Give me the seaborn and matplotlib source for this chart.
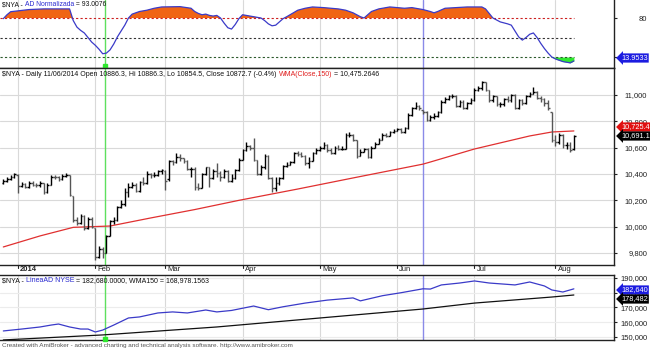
import numpy as np
import matplotlib
matplotlib.use('Agg')
import matplotlib.pyplot as plt
import matplotlib.transforms as mtransforms
import seaborn as sns

# daily bars, 26 Dec 2013 .. 8 Aug 2014 (bar index 0..155)
month_labels = ['2014', 'Feb', 'Mar', 'Apr', 'May', 'Jun', 'Jul', 'Aug']
month_bars = [4, 25, 44, 65, 86, 107, 128, 150]

nya_open = [10330, 10350, 10365, 10380, 10395, 10310, 10325, 10300, 10335, 10320,
            10315, 10330, 10260, 10320, 10380, 10375, 10360, 10385, 10390, 10230,
            10050, 10030, 10080, 9990, 10060, 9990, 9770, 9830, 9800, 9930,
            10040, 10050, 10150, 10170, 10260, 10300, 10320, 10270, 10340, 10330,
            10400, 10390, 10395, 10420, 10420, 10360, 10500, 10490, 10530, 10520,
            10500, 10440, 10440, 10300, 10290, 10400, 10450, 10370, 10420, 10410,
            10380, 10420, 10350, 10370, 10430, 10510, 10580, 10610, 10600, 10510,
            10400, 10450, 10540, 10370, 10290, 10330, 10370, 10460, 10470, 10490,
            10560, 10550, 10540, 10480, 10500, 10560, 10580, 10600, 10620, 10580,
            10560, 10600, 10590, 10590, 10700, 10700, 10660, 10540, 10570, 10590,
            10530, 10600, 10630, 10660, 10700, 10690, 10720, 10730, 10740, 10720,
            10750, 10850, 10900, 10920, 10886, 10873, 10810, 10830, 10840, 10870,
            10950, 10970, 10990, 10990, 10920, 10950, 10900, 10940, 10960, 11040,
            11050, 11100, 11040, 10960, 10990, 10930, 10930, 10970, 10960, 11000,
            10900, 10960, 10940, 10990, 11010, 11020, 10980, 10970, 10940, 10870,
            10660, 10640, 10700, 10620, 10620, 10590]
nya_high = [10365, 10380, 10395, 10410, 10400, 10340, 10335, 10350, 10345, 10335,
            10345, 10335, 10330, 10395, 10395, 10385, 10400, 10410, 10395, 10235,
            10070, 10095, 10085, 10075, 10070, 9990, 9850, 9845, 9940, 10050,
            10070, 10160, 10200, 10290, 10330, 10340, 10330, 10350, 10380, 10420,
            10410, 10415, 10430, 10440, 10430, 10505, 10510, 10560, 10550, 10520,
            10505, 10455, 10450, 10330, 10410, 10455, 10450, 10440, 10480, 10420,
            10440, 10430, 10400, 10440, 10520, 10590, 10640, 10620, 10673, 10505,
            10470, 10550, 10545, 10380, 10380, 10380, 10470, 10490, 10500, 10570,
            10575, 10565, 10545, 10530, 10570, 10600, 10610, 10640, 10625, 10600,
            10610, 10620, 10610, 10710, 10720, 10705, 10660, 10590, 10600, 10595,
            10610, 10640, 10670, 10710, 10715, 10730, 10745, 10750, 10750, 10760,
            10860, 10910, 10947, 10925, 10886, 10880, 10845, 10860, 10880, 10960,
            10985, 11000, 11005, 11000, 10960, 10960, 10950, 10975, 11050, 11070,
            11106, 11100, 11040, 11000, 10990, 10950, 10980, 10990, 11010, 11005,
            10970, 10970, 11000, 11020, 11060, 11030, 10990, 10980, 10960, 10870,
            10700, 10710, 10705, 10640, 10640, 10700]
nya_low = [10325, 10340, 10355, 10370, 10255, 10300, 10290, 10295, 10310, 10300,
           10300, 10250, 10255, 10315, 10360, 10350, 10355, 10375, 10230, 10035,
           10010, 10020, 9975, 9985, 9990, 9747, 9765, 9760, 9800, 9930,
           10020, 10040, 10140, 10160, 10225, 10290, 10260, 10265, 10320, 10325,
           10370, 10380, 10385, 10400, 10280, 10350, 10470, 10480, 10500, 10480,
           10430, 10380, 10280, 10280, 10290, 10395, 10300, 10360, 10380, 10350,
           10370, 10340, 10340, 10365, 10425, 10505, 10575, 10585, 10500, 10390,
           10395, 10440, 10365, 10263, 10270, 10320, 10365, 10455, 10465, 10485,
           10540, 10530, 10470, 10445, 10495, 10555, 10575, 10590, 10570, 10550,
           10550, 10580, 10580, 10590, 10680, 10650, 10520, 10535, 10565, 10520,
           10525, 10595, 10625, 10655, 10680, 10685, 10715, 10725, 10710, 10715,
           10745, 10840, 10890, 10885, 10854, 10800, 10800, 10820, 10830, 10860,
           10940, 10960, 10975, 10910, 10910, 10890, 10895, 10930, 10955, 11030,
           11040, 11030, 10950, 10950, 10915, 10910, 10920, 10950, 10950, 10895,
           10895, 10925, 10935, 10985, 11005, 10970, 10950, 10920, 10885, 10640,
           10610, 10630, 10600, 10590, 10570, 10580]
nya_close = [10350, 10365, 10380, 10400, 10310, 10325, 10300, 10335, 10320, 10315,
             10330, 10260, 10320, 10380, 10375, 10360, 10385, 10395, 10240, 10050,
             10030, 10080, 9990, 10060, 10000, 9770, 9830, 9800, 9930, 10040,
             10050, 10150, 10170, 10260, 10300, 10320, 10270, 10340, 10330, 10400,
             10390, 10395, 10420, 10430, 10350, 10500, 10490, 10530, 10520, 10500,
             10440, 10440, 10300, 10290, 10400, 10450, 10370, 10420, 10410, 10380,
             10420, 10350, 10370, 10430, 10510, 10580, 10610, 10600, 10510, 10400,
             10450, 10540, 10370, 10290, 10330, 10370, 10460, 10470, 10490, 10560,
             10550, 10540, 10480, 10500, 10560, 10580, 10600, 10620, 10580, 10560,
             10600, 10590, 10590, 10700, 10700, 10660, 10540, 10570, 10590, 10530,
             10600, 10630, 10660, 10700, 10690, 10720, 10730, 10740, 10720, 10750,
             10850, 10900, 10920, 10900, 10873, 10810, 10830, 10840, 10870, 10950,
             10970, 10990, 10990, 10920, 10950, 10900, 10940, 10960, 11040, 11050,
             11100, 11040, 10960, 10990, 10930, 10930, 10970, 10960, 11000, 10900,
             10960, 10940, 10990, 11010, 11020, 10980, 10970, 10940, 10900, 10660,
             10640, 10700, 10620, 10620, 10580, 10691]

# WMA(Close,150)
wma_bar = [0, 10, 19, 29, 40, 52, 64, 80, 95, 114, 116, 128, 143, 149, 155]
wma_val = [9846, 9930, 9995, 10005, 10066, 10130, 10200, 10286, 10370, 10475,
           10491, 10590, 10689, 10719, 10727]

# AD Normalizada (top pane)
adn_bar = [0, 1, 2, 4, 7, 11, 15, 18, 19, 20, 21, 22, 23, 24, 25, 26, 27, 28, 29, 30,
           31, 32, 33, 34, 35, 37, 39, 41, 43, 48, 51, 52, 53, 54, 55, 56, 57, 58, 59,
           60, 61, 62, 63, 64, 65, 67, 70, 71, 72, 73, 74, 75, 76, 77, 80, 82, 84, 87,
           89, 91, 93, 95, 96, 97, 98, 99, 100, 102, 105, 107, 109, 111, 114, 116, 117,
           118, 120, 123, 126, 130, 131, 132, 133, 134, 135, 137, 138, 139, 140, 141,
           142, 143, 144, 145, 146, 147, 148, 149, 150, 152, 154, 155]
adn_val = [79, 85, 89.7, 91, 93, 94, 94, 94, 76, 66, 61, 57, 50, 43, 38, 32, 25, 26, 31, 40,
           51, 60, 69, 80, 86, 90, 92, 95, 97, 97.5, 95, 90, 87, 85, 86, 84, 83, 84, 80,
           72, 65, 63, 70, 79, 85, 83, 80, 76, 71, 68, 69, 74, 79, 82, 92, 95, 97, 96,
           95, 94, 92, 88, 85, 82, 80, 85, 90, 94, 97, 96, 95, 96, 93, 90, 88,
           90, 95, 96, 97, 97, 94, 87, 80, 77, 74, 71, 69, 60, 51, 46,
           50, 55, 57, 50, 41, 33, 26, 20, 17, 13, 11, 13.95]

# LineaAD NYSE and its WMA150 (bottom pane)
ad_bar = [0, 5, 10, 13, 15, 18, 21, 23, 25, 27, 30, 34, 37, 42, 46, 50, 55, 58,
          62, 68, 72, 76, 82, 88, 95, 97, 103, 108, 114, 116, 119, 124, 128, 132,
          139, 143, 147, 149, 152, 155]
ad_val = [154100, 155400, 156800, 158100, 158800, 156800, 155400, 155400, 153400,
          154700, 158100, 162900, 163600, 166300, 167000, 166300, 168300, 167000,
          168000, 171000, 168500, 170500, 173000, 175000, 176500, 174500, 178000,
          180000, 182680, 182500, 185300, 186600, 188000, 186600, 185300, 187300,
          184600, 181900, 180500, 182640]
adw_bar = [0, 27, 58, 114, 128, 149, 155]
adw_val = [148000, 151400, 156800, 168978, 173000, 177100, 178482]

sel_bar = 114      # 11/06/2014, blue cursor
mark_bar = 27.6    # green marker line

W, H = 650, 351
sns.set_style('white')
plt.rcParams['font.family'] = ['Liberation Sans', 'DejaVu Sans']
fig = plt.figure(figsize=(W / 100, H / 100), dpi=100)

def px_axes(y0, y1, x1=614):
    return fig.add_axes([0, 1 - y1 / H, x1 / W, (y1 - y0) / H])

ax_top = px_axes(0, 68)
ax_px = px_axes(68, 265)
ax_ad = px_axes(275, 340)

xlim = (-0.9, 165.9)
grid_c = '#d9d9d9'
for ax in (ax_top, ax_px, ax_ad):
    ax.set_xlim(*xlim)
    ax.set_xticks([])
    for b in month_bars:
        ax.axvline(b, color=grid_c, lw=0.8, zorder=0)
    ax.axvline(mark_bar, color='#5ee05e', lw=1.0, zorder=1)
    ax.axvline(sel_bar, color='#8a8ae8', lw=1.0, zorder=1)
    ax.yaxis.tick_right()
    # right-aligned labels ending near the picture edge
    ax.tick_params(axis='y', labelsize=5.5, length=2, pad=22, colors='#222222')
    ax.spines['left'].set_visible(False)
    for s in ('right', 'top', 'bottom'):
        ax.spines[s].set_color('#222222')
        ax.spines[s].set_linewidth(1.0)
ax_top.spines['top'].set_visible(False)

def fmt_thousands(ax):
    ax.yaxis.set_major_formatter(lambda v, p: f'{v:,.0f}')

# ---- top pane: AD Normalizada
ax_top.set_ylim(3.1, 107.7)
ax_top.set_yticks([20, 80])
xs = np.array(adn_bar, dtype=float)
ys = np.array(adn_val, dtype=float)
ax_top.fill_between(xs, 80, ys, where=ys >= 80, interpolate=True, color='#f06414', lw=0, zorder=2)
ax_top.fill_between(xs, 20, ys, where=ys <= 20, interpolate=True, color='#2ee82e', lw=0, zorder=2)
sns.lineplot(x=xs, y=ys, ax=ax_top, color='#3a3ac8', lw=0.9, zorder=3)
ax_top.hlines(80, xlim[0], 155, colors='#cc2020', linestyles=(0, (2, 2)), lw=0.8, zorder=2)
ax_top.hlines(50, xlim[0], 155, colors='#333333', linestyles=(0, (2, 2)), lw=0.8, zorder=2)
ax_top.hlines(20, xlim[0], 155, colors='#2c5a2c', linestyles=(0, (2, 2)), lw=0.8, zorder=2)
ax_top.plot([mark_bar], [5.5], 's', color='#2ee82e', ms=3, zorder=4, clip_on=False)

# ---- price pane
ax_px.set_ylim(9709, 11205)
ax_px.set_yticks(range(9800, 11001, 200))
fmt_thousands(ax_px)
for t in ax_px.get_yticks():
    ax_px.axhline(t, color=grid_c, lw=0.8, zorder=0)
bx = np.arange(len(nya_close))
o = np.array(nya_open)
c = np.array(nya_close)
cols = np.where(c >= o, '#000000', '#555555')
ax_px.vlines(bx, nya_low, nya_high, colors=cols, lw=1.0, zorder=3)
ax_px.hlines(o, bx - 0.45, bx, colors=cols, lw=1.0, zorder=3)
ax_px.hlines(c, bx, bx + 0.45, colors=cols, lw=1.0, zorder=3)
sns.lineplot(x=wma_bar, y=wma_val, ax=ax_px, color='#e03030', lw=0.9, zorder=2)

tr = mtransforms.blended_transform_factory(ax_px.transData, ax_px.transAxes)
for b, lab in zip(month_bars, month_labels):
    ax_px.plot([b, b], [0, -0.015], color='#222222', lw=0.8, transform=tr, clip_on=False)
    ax_px.annotate(lab, (b, 0), xycoords=tr, xytext=(1.5, -1), textcoords='offset points',
                   ha='left', va='top', fontsize=5.5, color='#222222',
                   fontweight='bold' if lab == '2014' else 'normal')

# ---- bottom pane: LineaAD
ax_ad.set_ylim(147966, 192034)
ax_ad.set_yticks(range(150000, 190001, 10000))
fmt_thousands(ax_ad)
for t in ax_ad.get_yticks():
    ax_ad.axhline(t, color='#ececec', lw=0.8, zorder=0)
sns.lineplot(x=ad_bar, y=ad_val, ax=ax_ad, color='#3a3ac8', lw=0.9, zorder=3)
sns.lineplot(x=adw_bar, y=adw_val, ax=ax_ad, color='#111111', lw=0.9, zorder=2)
ax_ad.plot([mark_bar], [148800], 's', color='#2ee82e', ms=3, zorder=4, clip_on=False)

for ax in (ax_top, ax_px, ax_ad):
    for lab in ax.get_yticklabels():
        lab.set_horizontalalignment('right')

# ---- titles (sized so each line ends where the reference's does)
fig.canvas.draw()
rend = fig.canvas.get_renderer()

def multi_text(x_px, y_px, parts, end_px):
    texts = []
    x = x_px
    for s, col in parts:
        t = fig.text(x / W, 1 - y_px / H, s, color=col, fontsize=5.0, ha='left', va='center', zorder=10)
        texts.append(t)
    width = sum(t.get_window_extent(renderer=rend).width for t in texts)
    size = 5.0 * (end_px - x_px) / width
    for t in texts:
        t.set_fontsize(size)
        t.set_x(x / W)
        x += t.get_window_extent(renderer=rend).width
    return texts

blue = '#2a2ad0'
multi_text(2, 5, [('$NYA - ', '#111111'), ('AD Normalizada', blue), (' = 93.0076', '#111111')], 108)
multi_text(2, 74, [('$NYA - Daily 11/06/2014 Open 10886.3, Hi 10886.3, Lo 10854.5, Close 10872.7 (-0.4%) ', '#111111'),
                   ('WMA(Close,150)', '#e02020'), (' = 10,475.2646', '#111111')], 385)
multi_text(2, 281, [('$NYA - ', '#111111'), ('LineaAD NYSE', blue),
                    (' = 182,680.0000, WMA150 = 168,978.1563', '#111111')], 210)
multi_text(2, 346, [('Created with AmiBroker - advanced charting and technical analysis software. http://www.amibroker.com',
                     '#555555')], 300)

# ---- value labels on the right edge
def value_tag(y_px, s, col):
    fig.text(621 / W, 1 - y_px / H, s, color='white', fontsize=5.3, ha='left', va='center', zorder=12,
             bbox=dict(boxstyle='larrow,pad=0.15', fc=col, ec='none'))

value_tag(58, '13.9533', '#1c1ce0')
value_tag(127, '10,725.4', '#e01010')
value_tag(136, '10,691.1', '#000000')
value_tag(290, '182,640', '#1c1ce0')
value_tag(299, '178,482', '#000000')

fig.savefig('out.png', dpi=100, facecolor='white')
